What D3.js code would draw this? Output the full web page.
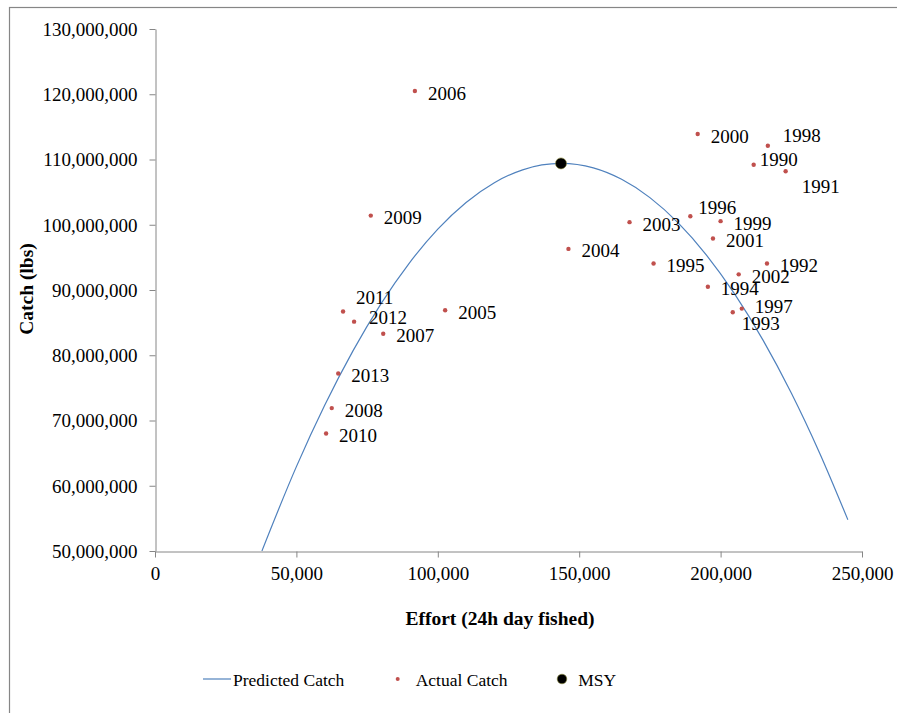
<!DOCTYPE html>
<html>
<head>
<meta charset="utf-8">
<script src="https://cdn.jsdelivr.net/npm/d3@7"></script>
<style>
  html, body { margin: 0; padding: 0; background: #fff; }
  svg { display: block; }
  text { font-family: "Liberation Serif", "Times New Roman", serif; fill: #000; }
</style>
</head>
<body>
<svg id="chart" width="897" height="713"></svg>
<script>
// ---- Data ----
const years = ["1990","1991","1992","1993","1994","1995","1996","1997","1998","1999",
               "2000","2001","2002","2003","2004","2005","2006","2007","2008","2009",
               "2010","2011","2012","2013"];
const effort = [211700, 223000, 216400, 204300, 195500, 176300, 189300, 207500, 216700, 200000,
                191900, 197300, 206400, 167800, 146200, 102600, 91900, 80700, 62500, 76300,
                60500, 66500, 70400, 64800];
const actualCatch = [109200000, 108200000, 94050000, 86600000, 90500000, 94050000, 101300000, 87150000, 112100000, 100550000,
                     113900000, 97900000, 92400000, 100400000, 96300000, 86900000, 120500000, 83300000, 71900000, 101400000,
                     68000000, 86700000, 85150000, 77200000];

const predEffort = [37800, 50000, 60000, 70000, 80000, 90000, 100000, 110000, 120000, 130000, 143569,
                    155000, 165000, 175000, 185000, 195000, 205000, 215000, 225000, 235000, 245000];
const predCatch  = [50000000, 62930000, 72330000, 80670000, 87950000, 94170000, 99330000, 103420000, 106450000, 108420000, 109400000,
                    108710000, 106960000, 104160000, 100290000, 95360000, 89370000, 82320000, 74210000, 65030000, 54790000];

const msyEffort = [143569];
const msyCatch = [109400000];

const xTicks = [0, 50000, 100000, 150000, 200000, 250000];
const yTicks = [50000000, 60000000, 70000000, 80000000, 90000000, 100000000, 110000000, 120000000, 130000000];

const xTitle = "Effort (24h day fished)";
const yTitle = "Catch (lbs)";
const legendLabels = ["Predicted Catch", "Actual Catch", "MSY"];

// ---- Layout / styling ----
const svg = d3.select("#chart");
const axisColor = "#868686";
const lineColor = "#4F81BD";
const dotColor = "#C0504D";
const fontSize = 19;
const legendFont = "17.5px";

// chart border
svg.append("rect").attr("x", 9.5).attr("y", 7.5).attr("width", 1000).attr("height", 1000)
  .attr("fill", "none").attr("stroke", axisColor).attr("stroke-width", 1.2);

const x = d3.scaleLinear().domain([0, 250000]).range([155, 862]);
const y = d3.scaleLinear().domain([50000000, 130000000]).range([551, 29]);
const fmt = d3.format(",");

// Y axis
const yAxis = svg.append("g").attr("transform", "translate(155.5,0)")
  .call(d3.axisLeft(y).tickValues(yTicks).tickSize(6).tickSizeOuter(0).tickFormat(fmt));
yAxis.selectAll("path, line").attr("stroke", axisColor);
yAxis.selectAll("text").attr("x", -18).attr("dy", "0.33em")
  .style("font-size", fontSize + "px").style("font-family", "Liberation Serif, serif").attr("fill", "#000");

// X axis
const xAxis = svg.append("g").attr("transform", "translate(0,551.5)")
  .call(d3.axisBottom(x).tickValues(xTicks).tickSize(6).tickSizeOuter(0).tickFormat(fmt));
xAxis.selectAll("path, line").attr("stroke", axisColor);
xAxis.selectAll("text").attr("y", 28.5).attr("dy", 0)
  .style("font-size", fontSize + "px").style("font-family", "Liberation Serif, serif").attr("fill", "#000");

// clip to plot area
svg.append("clipPath").attr("id", "plotClip").append("rect")
  .attr("x", 155).attr("y", 29).attr("width", 707).attr("height", 522);

// Predicted catch line
const predData = predEffort.map((e, i) => [e, predCatch[i]]);
svg.append("path").datum(predData)
  .attr("clip-path", "url(#plotClip)")
  .attr("fill", "none").attr("stroke", lineColor).attr("stroke-width", 1.2)
  .attr("d", d3.line().x(d => x(d[0])).y(d => y(d[1])).curve(d3.curveMonotoneX));

// Actual catch points
const pts = years.map((yr, i) => ({ yr, e: effort[i], c: actualCatch[i] }));
svg.append("g").selectAll("circle").data(pts).join("circle")
  .attr("cx", d => x(d.e)).attr("cy", d => y(d.c)).attr("r", 2.2).attr("fill", dotColor);

// Labels with per-label placement (like manual label moves in the original)
const nudge = {
  "2011": [13, -8], "2012": [15, 2], "1998": [15, -4], "1990": [6, 1],
  "1991": [16, 22], "1996": [8, -2], "1997": [13, 4], "1993": [9, 18]
};
svg.append("g").selectAll("text").data(pts).join("text")
  .attr("x", d => x(d.e) + (nudge[d.yr] ? nudge[d.yr][0] : 13))
  .attr("y", d => y(d.c) + (nudge[d.yr] ? nudge[d.yr][1] : 8.6))
  .style("font-size", fontSize + "px")
  .text(d => d.yr);

// MSY
svg.append("g").selectAll("circle").data(msyEffort).join("circle")
  .attr("cx", (d) => x(d)).attr("cy", (d, i) => y(msyCatch[i])).attr("r", 5.5)
  .attr("fill", "#000").attr("stroke", "#8a8a3a").attr("stroke-width", 0.6);

// Axis titles
svg.append("text").attr("x", 500).attr("y", 625).attr("text-anchor", "middle")
  .style("font-size", "19.5px").style("font-weight", "bold").text(xTitle);
svg.append("text").attr("transform", "translate(32.5,289) rotate(-90)").attr("text-anchor", "middle")
  .style("font-size", "19.5px").style("font-weight", "bold").text(yTitle);

// Legend
const lg = svg.append("g");
const ly = 679;
lg.append("line").attr("x1", 203).attr("x2", 231).attr("y1", ly).attr("y2", ly)
  .attr("stroke", lineColor).attr("stroke-width", 1.2);
lg.append("text").attr("x", 233).attr("y", ly + 6.5).style("font-size", legendFont).text(legendLabels[0]);
lg.append("circle").attr("cx", 397.7).attr("cy", ly).attr("r", 2).attr("fill", dotColor);
lg.append("text").attr("x", 415.7).attr("y", ly + 6.5).style("font-size", legendFont).text(legendLabels[1]);
lg.append("circle").attr("cx", 562).attr("cy", ly).attr("r", 4.8)
  .attr("fill", "#000").attr("stroke", "#8a8a3a").attr("stroke-width", 0.6);
lg.append("text").attr("x", 578.3).attr("y", ly + 6.5).style("font-size", legendFont).text(legendLabels[2]);
</script>
</body>
</html>
